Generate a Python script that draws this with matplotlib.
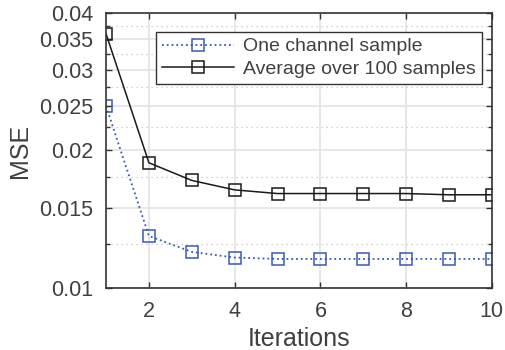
import matplotlib.pyplot as plt
from matplotlib.ticker import FixedLocator, NullFormatter

# Data
iterations = [1, 2, 3, 4, 5, 6, 7, 8, 9, 10]
mse_one_sample = [0.0250, 0.0130, 0.0120, 0.01166, 0.01158, 0.01158, 0.01158, 0.01158, 0.01158, 0.01158]
mse_average = [0.0360, 0.0188, 0.0172, 0.0164, 0.0161, 0.0161, 0.0161, 0.0161, 0.0160, 0.0160]

y_major = [0.01, 0.015, 0.02, 0.025, 0.03, 0.035, 0.04]
y_minor = [0.0125, 0.0175, 0.0225, 0.0275, 0.0325, 0.0375]
x_major = [2, 4, 6, 8, 10]

plt.rcParams["font.family"] = ["Liberation Sans", "DejaVu Sans"]
text_grey = "#404040"
axis_grey = "#333333"

fig = plt.figure(figsize=(5.05, 3.5), dpi=100)
ax = fig.add_axes([0.21, 0.177, 0.764, 0.786])

ax.plot(iterations, mse_one_sample, ':', color='#3a57b5', marker='s', markersize=8.5,
        markerfacecolor='none', markeredgewidth=1.1, linewidth=1.3,
        label='One channel sample')
ax.plot(iterations, mse_average, '-', color='#1a1a1a', marker='s', markersize=8.5,
        markerfacecolor='none', markeredgewidth=1.1, linewidth=1.1,
        label='Average over 100 samples')

ax.set_yscale('log')
ax.set_xlim(1, 10)
ax.set_ylim(0.01, 0.04)
ax.yaxis.set_major_locator(FixedLocator(y_major))
ax.yaxis.set_minor_locator(FixedLocator(y_minor))
ax.yaxis.set_minor_formatter(NullFormatter())
ax.set_yticklabels([str(v) for v in y_major])
ax.set_xticks(x_major)

ax.grid(True, which='major', color='#e3e3e3', linestyle='-', linewidth=1.2)
ax.grid(True, which='minor', axis='y', color='#c4c4c4', linestyle=(0, (1, 3)), linewidth=0.9)
ax.set_axisbelow(True)

ax.tick_params(which='both', direction='in', top=True, right=True,
               colors=axis_grey, labelcolor=text_grey, labelsize=15.5, length=4, width=1)
ax.tick_params(axis='y', which='major', pad=9)
ax.tick_params(axis='x', which='major', pad=9)
ax.tick_params(which='minor', length=3)
for side in ax.spines.values():
    side.set_color(axis_grey)
    side.set_linewidth(1.2)

ax.set_xlabel("Iterations", fontsize=18, color=text_grey, labelpad=4)
ax.set_ylabel("MSE", fontsize=18, color=text_grey, labelpad=5)

leg = ax.legend(loc='upper right', bbox_to_anchor=(0.974, 0.931), borderaxespad=0,
                fontsize=14, fancybox=False, framealpha=1, edgecolor=axis_grey,
                handlelength=3.7, borderpad=0.3, labelspacing=0.25, handletextpad=0.5)
leg.get_frame().set_linewidth(1.0)
for t in leg.get_texts():
    t.set_color(text_grey)

plt.savefig('out.png', dpi=100)
